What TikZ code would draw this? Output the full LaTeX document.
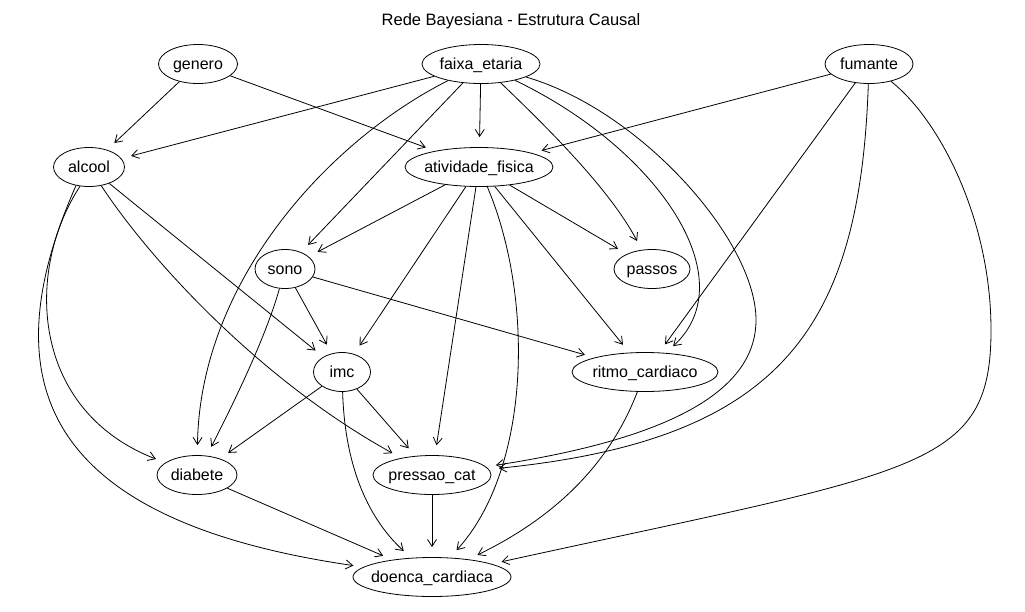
\documentclass[tikz,border=0pt]{standalone}
\usepackage{fontspec}
\setmainfont{Liberation Sans}
\usepackage{tikz}
\usetikzlibrary{shapes.geometric,arrows.meta}
\tikzset{var/.style={draw,ellipse,line width=0.8pt,inner xsep=-10pt,inner ysep=0pt,minimum height=39pt,text height=11.5pt,text depth=0pt,font=\fontsize{16}{19}\selectfont},
         line/.style={-{Straight Barb[length=7pt,width=9pt]},line width=0.8pt,shorten >=10pt}
}

\begin{document}
\begin{tikzpicture}[x=1pt,y=1pt,yscale=-1,xscale=1]
\useasboundingbox (0,0) rectangle (1025,611);

% Title
\node[font=\fontsize{16.5}{20}\selectfont,anchor=base] (titulo) at (511,25) {Rede Bayesiana - Estrutura Causal};

% Nodes
\node[var,minimum width=79pt] (genero) at (198,64) {genero};
\node[var,minimum width=118pt] (faixa) at (481,64) {faixa\_etaria};
\node[var,minimum width=88pt] (fumante) at (869,64) {fumante};
\node[var,minimum width=71pt] (alcool) at (89,167) {alcool};
\node[var,minimum width=148pt] (atividade) at (479,167) {atividade\_fisica};
\node[var,minimum width=60pt] (sono) at (285,269) {sono};
\node[var,minimum width=76pt] (passos) at (652,269) {passos};
\node[var,minimum width=57pt] (imc) at (342,372) {imc};
\node[var,minimum width=146pt] (ritmo) at (645,372) {ritmo\_cardiaco};
\node[var,minimum width=80pt] (diabete) at (197,475) {diabete};
\node[var,minimum width=118pt] (pressao) at (432,475) {pressao\_cat};
\node[var,minimum width=158pt] (doenca) at (432,577) {doenca\_cardiaca};

% genero
\draw[line] (genero) -- (alcool);
\draw[line] (genero) -- (atividade);
% faixa_etaria
\draw[line] (faixa) -- (alcool);
\draw[line] (faixa) -- (atividade);
\draw[line] (faixa) -- (sono);
\draw[line] (faixa) .. controls (550,130) and (610,190) .. (passos);
\draw[line] (faixa) .. controls (660,150) and (745,280) .. (ritmo);
\draw[line] (faixa) .. controls (640,110) and (756,240) .. (756,320) .. controls (756,395) and (660,440) .. (pressao);
\draw[line] (faixa) .. controls (330,140) and (200,280) .. (diabete);
% fumante
\draw[line] (fumante) -- (atividade);
\draw[line] (fumante) -- (ritmo);
\draw[line] (fumante) .. controls (860,330) and (780,440) .. (pressao);
\draw[line] (fumante) .. controls (940,120) and (991,220) .. (991,330) .. controls (991,470) and (920,470) .. (doenca);
% alcool
\draw[line] (alcool.245) .. controls (25,270) and (30,410) .. (diabete);
\draw[line] (alcool.235) .. controls (-10,380) and (40,520) .. (doenca);
\draw[line] (alcool) -- (imc);
\draw[line] (alcool) .. controls (150,260) and (260,380) .. (pressao);
% atividade_fisica
\draw[line] (atividade) -- (sono);
\draw[line] (atividade) -- (passos);
\draw[line] (atividade) -- (imc);
\draw[line] (atividade) -- (pressao);
\draw[line] (atividade) -- (ritmo);
\draw[line] (atividade) .. controls (535,300) and (530,470) .. (doenca);
% sono
\draw[line] (sono) -- (imc);
\draw[line] (sono) .. controls (265,340) and (230,410) .. (diabete);
\draw[line] (sono) -- (ritmo);
% imc
\draw[line] (imc) -- (diabete);
\draw[line] (imc) -- (pressao);
\draw[line] (imc) .. controls (345,470) and (370,520) .. (doenca);
% ritmo, diabete, pressao
\draw[line] (ritmo) .. controls (615,450) and (570,510) .. (doenca);
\draw[line] (diabete) -- (doenca);
\draw[line] (pressao) -- (doenca);

\end{tikzpicture}
\end{document}
